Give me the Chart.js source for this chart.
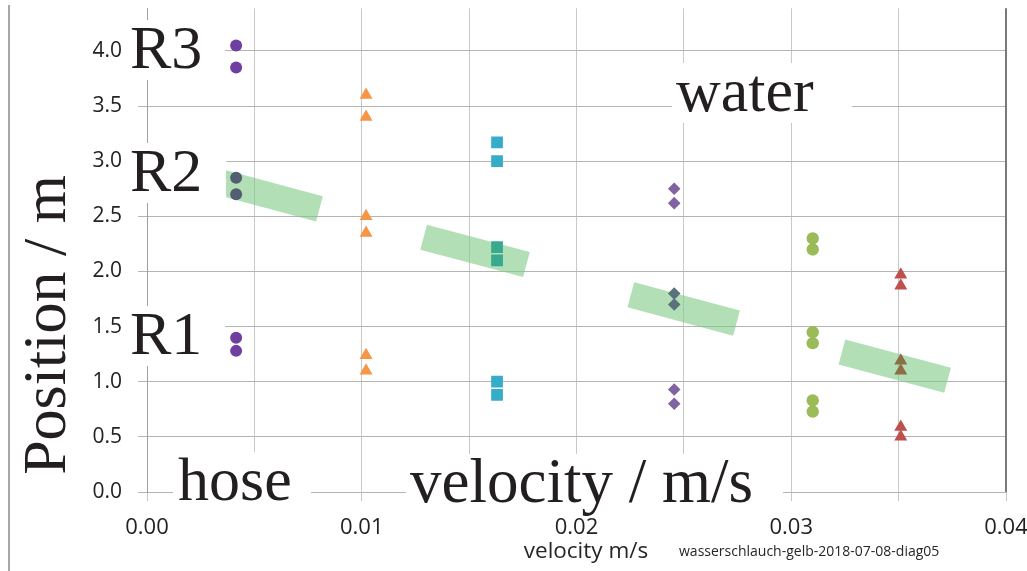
<!DOCTYPE html>
<html><head><meta charset="utf-8">
<script src="https://cdn.jsdelivr.net/npm/chart.js@4/dist/chart.umd.min.js"></script>
<style>html,body{margin:0;padding:0;background:#fff;}#wrap{width:1027px;height:571px;}</style>
</head><body><div id="wrap"><canvas id="c" width="1027" height="571"></canvas></div>
<script>
// ---- data ----
const velocities = [0.00415, 0.0102, 0.0163, 0.02455, 0.0310, 0.0351];
const posSet1 = [4.05, 3.85, 1.40, 1.28];
const posSet1Band = [2.85, 2.70];
const posSet2 = [3.60, 3.40, 2.50, 2.35, 1.24, 1.10];
const posSet3 = [3.17, 3.00, 1.00, 0.88];
const posSet3Band = [2.22, 2.10];
const posSet4 = [2.75, 2.62, 0.93, 0.80];
const posSet4Band = [1.80, 1.70];
const posSet5 = [2.30, 2.20, 1.45, 1.35, 0.83, 0.73];
const posSet6 = [1.97, 1.87, 0.59, 0.50];
const posSet6Band = [1.19, 1.10];
// green band annotations (data units: start and end of centre line)
const bandX1 = [0.00310, 0.01288, 0.02253, 0.03236];
const bandY1 = [2.826, 2.311, 1.789, 1.270];
const bandX2 = [0.00803, 0.01767, 0.02745, 0.03728];
const bandY2 = [2.568, 2.063, 1.532, 1.014];
// ticks
const xTickValues = [0, 0.005, 0.01, 0.015, 0.02, 0.025, 0.03, 0.035, 0.04];
const xTickLabels = ['0.00', '', '0.01', '', '0.02', '', '0.03', '', '0.04'];
const yTickValues = [0, 0.5, 1, 1.5, 2, 2.5, 3, 3.5, 4];
const yTickLabels = ['0.0', '0.5', '1.0', '1.5', '2.0', '2.5', '3.0', '3.5', '4.0'];
const regionLabels = ['R3', 'R2', 'R1'];

function pts(v, arr){ return arr.map(p => ({x: v, y: p})); }
function ds(label, v, arr, style, r, color){
  return {label, data: pts(v, arr), pointStyle: style, pointRadius: r, pointHoverRadius: r,
    pointBackgroundColor: color, backgroundColor: color, pointBorderWidth: 0, borderWidth: 0, showLine: false};
}

const SERIF = '"Liberation Serif", "DejaVu Serif", serif';
const SANS = '"Open Sans", "Noto Sans", sans-serif';

const bandPlugin = {
  id: 'bands',
  beforeDatasetsDraw(chart){
    const {ctx, scales: {x, y}} = chart;
    ctx.save();
    ctx.fillStyle = 'rgba(128,202,135,0.6)';
    for (let i = 0; i < bandX1.length; i++){
      const x1 = x.getPixelForValue(bandX1[i]), y1 = y.getPixelForValue(bandY1[i]);
      const x2 = x.getPixelForValue(bandX2[i]), y2 = y.getPixelForValue(bandY2[i]);
      const dx = x2 - x1, dy = y2 - y1, len = Math.hypot(dx, dy);
      const h = 13, nx = -dy / len * h, ny = dx / len * h;
      ctx.beginPath();
      ctx.moveTo(x1 + nx, y1 + ny); ctx.lineTo(x2 + nx, y2 + ny);
      ctx.lineTo(x2 - nx, y2 - ny); ctx.lineTo(x1 - nx, y1 - ny);
      ctx.closePath(); ctx.fill();
    }
    ctx.restore();
  }
};

const textPlugin = {
  id: 'texts',
  afterDraw(chart){
    const {ctx, chartArea: ca} = chart;
    ctx.save();
    // right border
    ctx.strokeStyle = '#7a7a7a'; ctx.lineWidth = 2;
    ctx.beginPath(); ctx.moveTo(ca.right, ca.top); ctx.lineTo(ca.right, ca.bottom); ctx.stroke();
    // outer frame line on the left
    ctx.strokeStyle = '#8a8a8a'; ctx.lineWidth = 1.5;
    ctx.beginPath(); ctx.moveTo(9, 5); ctx.lineTo(9, 571); ctx.stroke();

    function boxText(t, tx, base, bx, bw, size){
      ctx.fillStyle = '#fff';
      ctx.fillRect(bx, base - 48, bw, 60);
      ctx.fillStyle = '#231f20';
      ctx.font = size + 'px ' + SERIF;
      ctx.textAlign = 'left'; ctx.textBaseline = 'alphabetic';
      ctx.fillText(t, tx, base);
    }
    boxText(regionLabels[0], 130, 68, 125, 100, 62);
    boxText(regionLabels[1], 130, 191, 125, 101, 62);
    boxText(regionLabels[2], 130, 354, 125, 100, 62);
    boxText('water', 676, 111, 672, 180, 62);
    boxText('hose', 178, 500, 173, 138, 62);
    boxText('velocity / m/s', 410, 502, 406, 377, 63);

    // rotated y title
    ctx.save();
    ctx.translate(65, 325); ctx.rotate(-Math.PI / 2);
    ctx.fillStyle = '#231f20'; ctx.font = '62px ' + SERIF;
    ctx.textAlign = 'center'; ctx.textBaseline = 'alphabetic';
    ctx.fillText('Position / m', 0, 0);
    ctx.restore();

    // small texts
    ctx.fillStyle = '#262626';
    ctx.font = '22.5px ' + SANS; ctx.textAlign = 'center';
    ctx.fillText('velocity m/s', 586, 558);
    ctx.font = '14px ' + SANS; ctx.textAlign = 'left';
    ctx.fillText('wasserschlauch-gelb-2018-07-08-diag05', 679, 556);
    ctx.restore();
  }
};

new Chart(document.getElementById('c'), {
  type: 'scatter',
  data: {
    datasets: [
      ds('Set 1', velocities[0], posSet1, 'circle', 6, '#6f3fa0'),
      ds('Set 1 (band)', velocities[0], posSet1Band, 'circle', 6, '#525e72'),
      ds('Set 2', velocities[1], posSet2, 'triangle', 7.5, '#f79646'),
      ds('Set 3', velocities[2], posSet3, 'rect', 8.3, '#35acc8'),
      ds('Set 3 (band)', velocities[2], posSet3Band, 'rect', 8.3, '#38a88e'),
      ds('Set 4', velocities[3], posSet4, 'rectRot', 6.3, '#8064a2'),
      ds('Set 4 (band)', velocities[3], posSet4Band, 'rectRot', 6.3, '#5b717c'),
      ds('Set 5', velocities[4], posSet5, 'circle', 6.2, '#9bbb59'),
      ds('Set 6', velocities[5], posSet6, 'triangle', 7.5, '#c0504d'),
      ds('Set 6 (band)', velocities[5], posSet6Band, 'triangle', 7.5, '#8b6d48')
    ]
  },
  options: {
    responsive: false, animation: false, devicePixelRatio: 1,
    layout: {padding: {left: 0, top: 5, right: 21, bottom: 0}},
    plugins: {legend: {display: false}, tooltip: {enabled: false}},
    scales: {
      x: {
        type: 'linear', min: 0, max: 0.04,
        afterBuildTicks: s => { s.ticks = xTickValues.map(v => ({value: v})); },
        afterFit: s => { s.height = 79; s.paddingLeft = 0; s.paddingRight = 0; },
        ticks: {
          callback: (v, i) => xTickLabels[i],
          font: {family: SANS, size: 22}, color: '#222', padding: 14,
          maxRotation: 0, autoSkip: false
        },
        grid: {color: '#c8c8c8', tickLength: 9, tickColor: '#c8c8c8'},
        border: {color: '#b4b4b4'}
      },
      y: {
        type: 'linear', min: 0, max: 4.387,
        afterBuildTicks: s => { s.ticks = yTickValues.map(v => ({value: v})); },
        afterFit: s => { s.width = 147; s.paddingTop = 0; s.paddingBottom = 0; },
        ticks: {
          callback: (v, i) => yTickLabels[i],
          font: {family: SANS, size: 21}, color: '#222', padding: 16
        },
        grid: {color: '#b4b4b4', tickLength: 9, tickColor: '#b4b4b4'},
        border: {color: '#a0a0a0'}
      }
    }
  },
  plugins: [bandPlugin, textPlugin]
});
</script></body></html>
